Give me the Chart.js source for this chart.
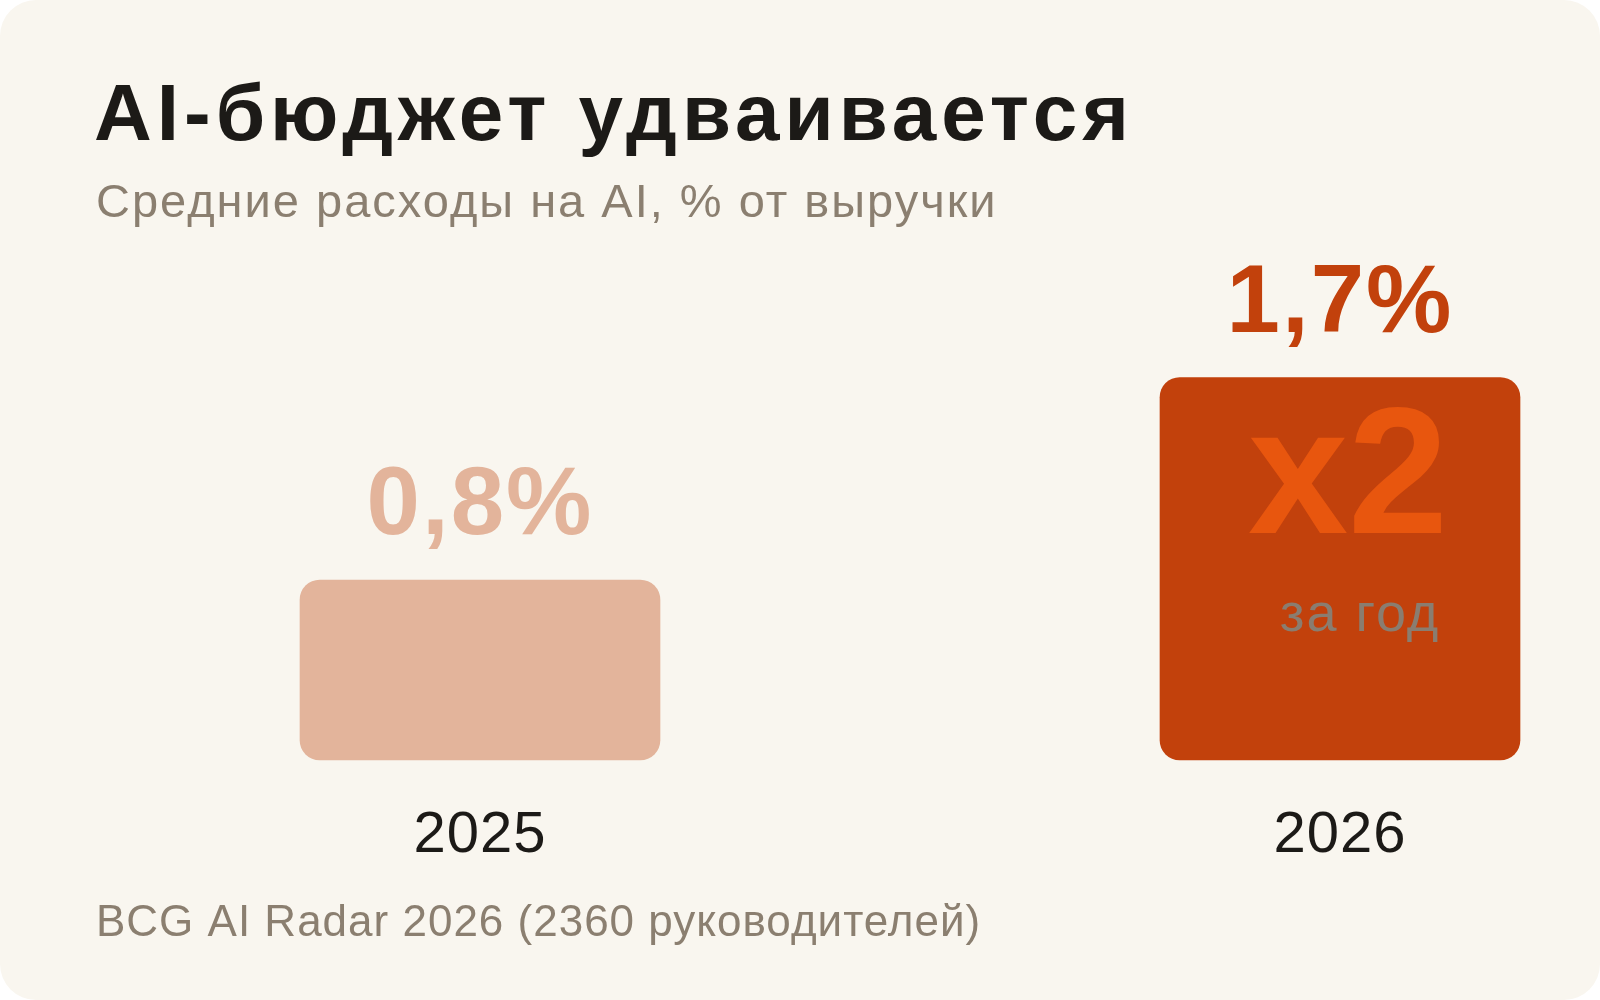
<!DOCTYPE html>
<html><head><meta charset="utf-8">
<script src="https://cdn.jsdelivr.net/npm/chart.js@4"></script>
<style>
body{margin:0;background:#fff;width:1600px;height:1000px;overflow:hidden;font-family:"Liberation Sans",Arial,sans-serif}
#card{position:absolute;left:0;top:0;width:1600px;height:1000px;background:#f9f6ef;border-radius:36px}
canvas{position:absolute;left:0;top:0}
</style></head><body>
<div id="card"></div>
<canvas id="c" width="1600" height="1000"></canvas>
<script>
const title = "AI-бюджет удваивается";
const subtitle = "Средние расходы на AI, % от выручки";
const source = "BCG AI Radar 2026 (2360 руководителей)";
const years = ["2025", "2026"];
const values = [0.8, 1.7];
const valueLabels = ["0,8%", "1,7%"];
const barColors = ["#e3b49b", "#c2410c"];
const labelColors = ["#e3b49b", "#c2410c"];

function txt(c, s, x, y, font, color, spacing) {
    c.font = font;
    c.fillStyle = color;
    c.letterSpacing = spacing + "px";
    c.fillText(s, x, y);
}

const textPlugin = {
    id: "texts",
    afterDatasetsDraw(chart) {
        const c = chart.ctx;
        const x = chart.scales.x, y = chart.scales.y;
        c.save();
        c.textBaseline = "alphabetic";
        c.textAlign = "left";
        txt(c, title, 94, 140, "bold 80px 'Liberation Sans'", "#1c1a17", 5);
        txt(c, subtitle, 96, 217, "47px 'Liberation Sans'", "#8b7f70", 2);
        txt(c, source, 96, 936, "44px 'Liberation Sans'", "#8b7f70", 1);
        c.textAlign = "center";
        years.forEach((yr, i) => {
            const cx = x.getPixelForValue(i);
            txt(c, yr, cx, 852, "58px 'Liberation Sans'", "#1c1a17", 1);
            txt(c, valueLabels[i], cx, y.getPixelForValue(values[i]) - 46,
                "bold 96px 'Liberation Sans'", labelColors[i], 2);
        });
        const cx = x.getPixelForValue(1);
        txt(c, "x2", cx + 8, 533, "bold 180px 'Liberation Sans'", "#e8560e", 0);
        txt(c, "за год", cx + 20, 631, "54px 'Liberation Sans'", "#8a7d70", 2);
        c.restore();
    }
};

new Chart(document.getElementById("c"), {
    type: "bar",
    data: {
        labels: years,
        datasets: [{
            data: values,
            backgroundColor: barColors,
            barThickness: 360,
            borderRadius: 20,
            borderSkipped: false,
            clip: false
        }]
    },
    options: {
        responsive: false,
        animation: false,
        layout: { padding: { left: 480, right: 260, top: 310, bottom: 240 } },
        plugins: { legend: { display: false }, tooltip: { enabled: false } },
        scales: {
            x: { display: false, offset: false },
            y: { display: false, min: 0, max: 2 }
        }
    },
    plugins: [textPlugin]
});
</script>
</body></html>
